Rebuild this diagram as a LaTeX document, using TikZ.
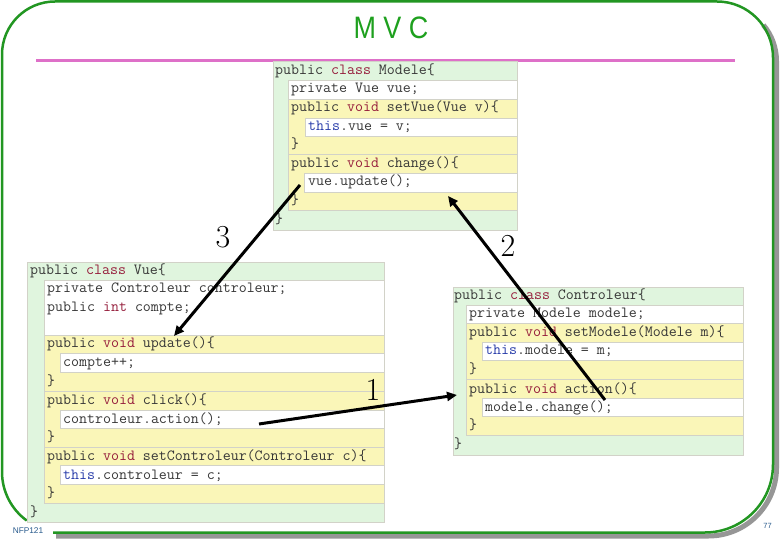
\documentclass[tikz,border=0pt]{standalone}
\usepackage{fontspec}
\usetikzlibrary{arrows.meta}
\newfontfamily\footfont{Liberation Sans}
\newfontfamily\titlefont{Liberation Sans}
\definecolor{frameg}{RGB}{34,150,34}
\definecolor{shadowg}{RGB}{150,150,150}
\definecolor{pinkline}{RGB}{222,112,200}
\definecolor{titleg}{RGB}{30,160,30}
\definecolor{cgreen}{RGB}{224,245,222}
\definecolor{cyellow}{RGB}{250,246,184}
\definecolor{cborder}{RGB}{210,210,200}
\definecolor{ckw}{RGB}{150,30,60}
\definecolor{cthis}{RGB}{40,60,170}
\definecolor{ctext}{RGB}{55,55,55}
\definecolor{footblue}{RGB}{40,90,140}
\newcommand{\mycodefont}{\fontsize{15.5}{18}\selectfont\ttfamily}
\newcommand{\kwd}[1]{\textcolor{ckw}{#1}}
\newcommand{\thisw}{\textcolor{cthis}{this}}
\newcommand{\codeline}[4]{\node[codetext] (#1) at (#2,#3) {#4};}
\tikzset{
  framel/.style={draw=frameg, line width=2.5pt},
  shadowl/.style={draw=shadowg, line width=5pt},
  grnbox/.style={fill=cgreen, draw=cborder, line width=0.6pt},
  ylwbox/.style={fill=cyellow, draw=cborder, line width=0.6pt},
  whtbox/.style={fill=white, draw=cborder, line width=0.6pt},
  codetext/.style={anchor=base west, inner sep=0pt, font=\mycodefont, text=ctext},
  numlabel/.style={inner sep=0pt, font=\fontsize{32}{32}\selectfont},
  bigarrow/.style={line width=3pt, -{Triangle[length=10pt,width=9pt]}},
  footer/.style={inner sep=0pt, text=footblue, font=\footfont\fontsize{8.3}{9}\selectfont}
}
\begin{document}
\begin{tikzpicture}[x=1pt,y=-1pt]
\useasboundingbox (0,0) rectangle (780,540);
% frame shadow and frame
\draw[shadowl] (56,536) -- (708.5,536) arc[start angle=270,end angle=360,radius=68pt] -- (776.5,61) arc[start angle=0,end angle=40,radius=56pt];
\draw[framel] (53,532.5) -- (705,532.5) arc[start angle=270,end angle=360,radius=68pt] -- (773,57.5) arc[start angle=0,end angle=90,radius=56pt] -- (55,1.5) arc[start angle=90,end angle=180,radius=53pt] -- (2,472) arc[start angle=180,end angle=234,radius=60pt];
% title and rule
\node[inner sep=0pt, text=titleg, font=\titlefont\fontsize{31}{31}\selectfont, xscale=0.87] (title) at (391,28) {M V C};
\draw[pinkline, line width=2.8pt] (36,60.3) -- (735,60.3);
% footer
\node[footer] (nfp) at (28,531) {NFP121};
\node[footer, font=\footfont\fontsize{7.5}{8}\selectfont] (pnum) at (767.5,525.5) {77};

% ---- Modele block ----
\draw[grnbox] (273,61) rectangle (517,230);
\draw[whtbox] (288,80) rectangle (517,99);
\draw[ylwbox] (288,99) rectangle (517,154.5);
\draw[whtbox] (305,118) rectangle (517,136);
\draw[ylwbox] (288,154.5) rectangle (517,210);
\draw[whtbox] (304,173) rectangle (517,192);
\codeline{m0}{275}{74.5}{public \kwd{class} Modele\{}
\codeline{m1}{291}{93}{private Vue vue;}
\codeline{m2}{291}{112}{public \kwd{void} setVue(Vue v)\{}
\codeline{m3}{308}{130.5}{\thisw.vue = v;}
\codeline{m4}{291}{148.5}{\}}
\codeline{m5}{291}{167.5}{public \kwd{void} change()\{}
\codeline{m6}{308}{186}{vue.update();}
\codeline{m7}{291}{204.5}{\}}
\codeline{m8}{275}{224}{\}}

% ---- Vue block ----
\draw[grnbox] (27,262) rectangle (384,522);
\draw[whtbox] (44,280) rectangle (384,335);
\draw[ylwbox] (44,335) rectangle (384,391);
\draw[whtbox] (60,353) rectangle (384,372);
\draw[ylwbox] (44,391) rectangle (384,447);
\draw[whtbox] (60,410) rectangle (384,428);
\draw[ylwbox] (44,447) rectangle (384,503);
\draw[whtbox] (60,465) rectangle (384,484);
\codeline{v0}{30}{274.5}{public \kwd{class} Vue\{}
\codeline{v1}{47}{292.5}{private Controleur controleur;}
\codeline{v2}{47}{311.5}{public \kwd{int} compte;}
\codeline{v3}{47}{348}{public \kwd{void} update()\{}
\codeline{v4}{63}{366.5}{compte++;}
\codeline{v5}{47}{385}{\}}
\codeline{v6}{47}{405}{public \kwd{void} click()\{}
\codeline{v7}{63}{423}{controleur.action();}
\codeline{v8}{47}{441.5}{\}}
\codeline{v9}{47}{460}{public \kwd{void} setControleur(Controleur c)\{}
\codeline{v10}{63}{479}{\thisw.controleur = c;}
\codeline{v11}{47}{497.5}{\}}
\codeline{v12}{30}{516}{\}}

% ---- Controleur block ----
\draw[grnbox] (453,287) rectangle (743,455);
\draw[whtbox] (466,305) rectangle (743,323);
\draw[ylwbox] (466,323) rectangle (743,379.5);
\draw[whtbox] (482,342) rectangle (743,360);
\draw[ylwbox] (466,379.5) rectangle (743,435);
\draw[whtbox] (482,398) rectangle (743,416);
\codeline{c0}{454}{300}{public \kwd{class} Controleur\{}
\codeline{c1}{469}{318}{private Modele modele;}
\codeline{c2}{469}{336.5}{public \kwd{void} setModele(Modele m)\{}
\codeline{c3}{485}{355}{\thisw.modele = m;}
\codeline{c4}{469}{373.5}{\}}
\codeline{c5}{469}{393}{public \kwd{void} action()\{}
\codeline{c6}{485}{411}{modele.change();}
\codeline{c7}{469}{429.5}{\}}
\codeline{c8}{454}{448.5}{\}}

% ---- arrows ----
\coordinate (a3s) at (300,185);
\coordinate (a3e) at (174,336);
\coordinate (a2s) at (605,400);
\coordinate (a2e) at (448,196);
\coordinate (a1s) at (259,424);
\coordinate (a1e) at (457,395);
\draw[bigarrow] (a3s) -- (a3e);
\draw[bigarrow] (a2s) -- (a2e);
\draw[bigarrow] (a1s) -- (a1e);
\node[numlabel] (n3) at (223,237) {3};
\node[numlabel] (n2) at (508,246) {2};
\node[numlabel] (n1) at (373,390) {1};
\end{tikzpicture}
\end{document}
